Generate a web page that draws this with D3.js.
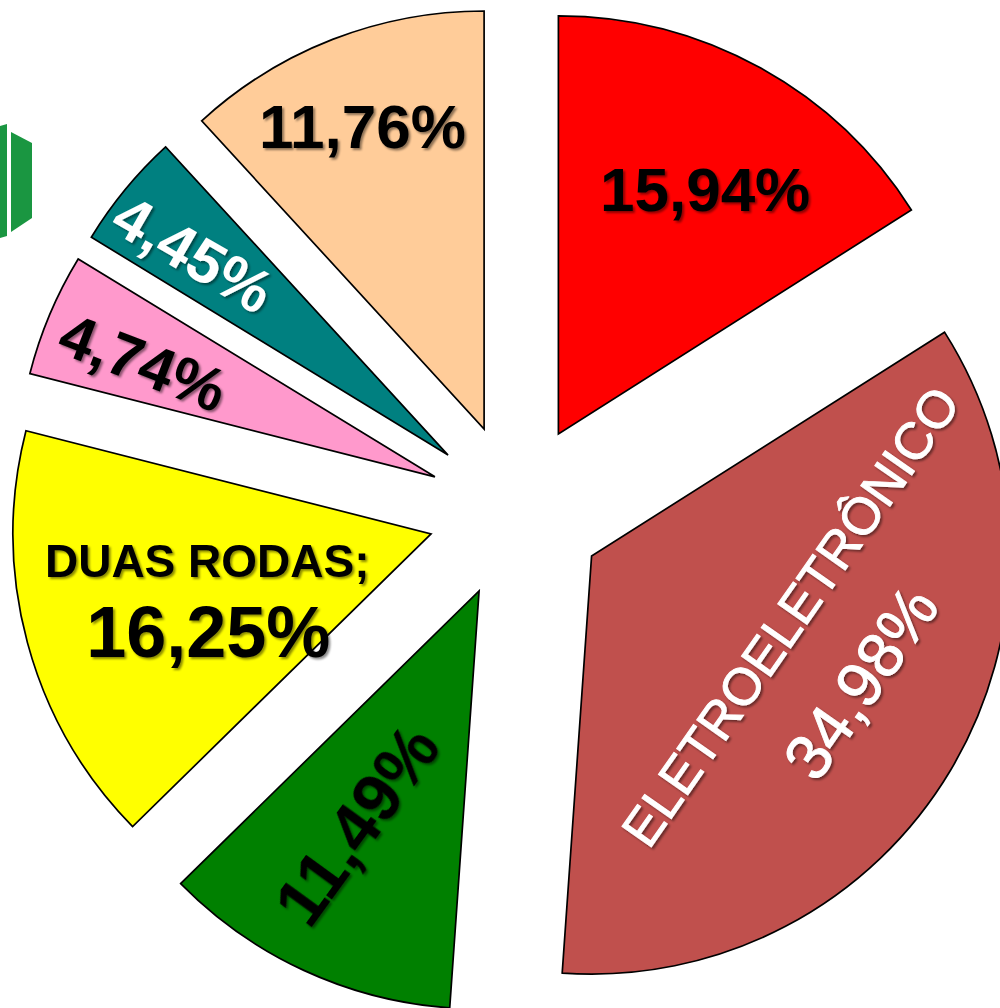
<!DOCTYPE html>
<html>
<head>
<meta charset="utf-8">
<script src="https://cdn.jsdelivr.net/npm/d3@7"></script>
<style>
  body { margin: 0; background: #fff; }
  svg { display: block; }
  text { font-family: "Liberation Sans", Arial, sans-serif; }
</style>
</head>
<body>
<script>
// slices, clockwise from 12 o'clock
const names = ['', 'ELETROELETRÔNICO', '', 'DUAS RODAS;', '', '', ''];
const values = [15.94, 34.98, 11.49, 16.25, 4.74, 4.45, 11.76];
const colors = ['#ff0000', '#c0504d', '#008000', '#ffff00', '#ff99cc', '#008080', '#ffcc99'];

const width = 1000, height = 1008;
const cx = 516, cy = 511, radius = 418, explode = 88;

// label placement: nudge from each exploded slice centroid (hand tuned)
const label_layout = [
    {rot: 0, fill: '#000', value: {dx: 46, dy: -62, size: 62, weight: 'bold'}},
    {rot: -55, fill: '#fff', thick: 0.9, name: {dx: 19, dy: -47, size: 52, weight: 'normal'}, value: {dx: 89, dy: 19, size: 64, weight: 'normal'}},
    {rot: -54, fill: '#000', value: {dx: -35, dy: 44, size: 68, weight: 'bold'}},
    {rot: 0, fill: '#000', name: {dx: -22, dy: -28, size: 46, weight: 'bold'}, value: {dx: -21, dy: 43, size: 72, weight: 'bold'}},
    {rot: 21, fill: '#000', value: {dx: -99, dy: -34, size: 61, weight: 'bold'}},
    {rot: 30, fill: '#fff', value: {dx: -93, dy: -69, size: 61, weight: 'bold'}},
    {rot: 0, fill: '#000', value: {dx: -46, dy: -109, size: 62, weight: 'bold'}}
];

const fmt = v => v.toFixed(2).replace('.', ',') + '%';

const svg = d3.select('body')
    .append('svg')
    .attr('width', width)
    .attr('height', height);

svg.append('rect')
    .attr('width', width)
    .attr('height', height)
    .attr('fill', '#fff');

const defs = svg.append('defs');
defs.append('filter')
    .attr('id', 'shadow')
    .attr('x', '-20%').attr('y', '-20%')
    .attr('width', '140%').attr('height', '140%')
    .append('feDropShadow')
    .attr('dx', 2).attr('dy', 2)
    .attr('stdDeviation', 1.3)
    .attr('flood-color', '#000')
    .attr('flood-opacity', 0.45);

// bit of the green logo sticking in from the left edge
const logo = svg.append('g').attr('fill', '#1a9641');
logo.append('path').attr('d', 'M0,126 L7,124 L7,236 L0,238 Z');
logo.append('path').attr('d', 'M11,132 L32,143 L32,218 L11,232 Z');

const pie = d3.pie()
    .sort(null)
    .value(d => d.value);

const data = values.map((v, i) => ({name: names[i], value: v, idx: i}));
const arcs = pie(data);

const arc = d3.arc()
    .innerRadius(0)
    .outerRadius(radius);

const color_scale = d3.scaleOrdinal()
    .domain(d3.range(values.length))
    .range(colors);

const shift = function (d) {
    const mid = (d.startAngle + d.endAngle) / 2;
    return [Math.sin(mid) * explode, -Math.cos(mid) * explode];
};

const chart = svg.append('g')
    .attr('transform', 'translate(' + cx + ',' + cy + ')');

chart.selectAll('path.slice')
    .data(arcs)
    .enter()
    .append('path')
    .attr('class', 'slice')
    .attr('d', arc)
    .attr('transform', function (d) {
        const s = shift(d);
        return 'translate(' + s[0] + ',' + s[1] + ')';
    })
    .attr('fill', d => color_scale(d.data.idx))
    .attr('stroke', '#000')
    .attr('stroke-width', 1.7)
    .attr('stroke-linejoin', 'miter');

const labels = chart.append('g').attr('filter', 'url(#shadow)');

arcs.forEach(function (d) {
    const lay = label_layout[d.data.idx];
    const s = shift(d);
    const c = arc.centroid(d);
    const base = [c[0] + s[0], c[1] + s[1]];

    const put = function (txt, part) {
        const t = labels.append('text')
            .attr('transform', 'translate(' + (base[0] + part.dx) + ',' + (base[1] + part.dy) + ') rotate(' + lay.rot + ')')
            .attr('text-anchor', 'middle')
            .attr('dy', '0.36em')
            .attr('font-size', part.size)
            .attr('font-weight', part.weight)
            .attr('fill', lay.fill)
            .text(txt);
        if (lay.thick) {
            t.attr('stroke', lay.fill).attr('stroke-width', lay.thick);
        }
    };

    if (d.data.name && lay.name) {
        put(d.data.name, lay.name);
    }
    put(fmt(d.data.value), lay.value);
});
</script>
</body>
</html>
